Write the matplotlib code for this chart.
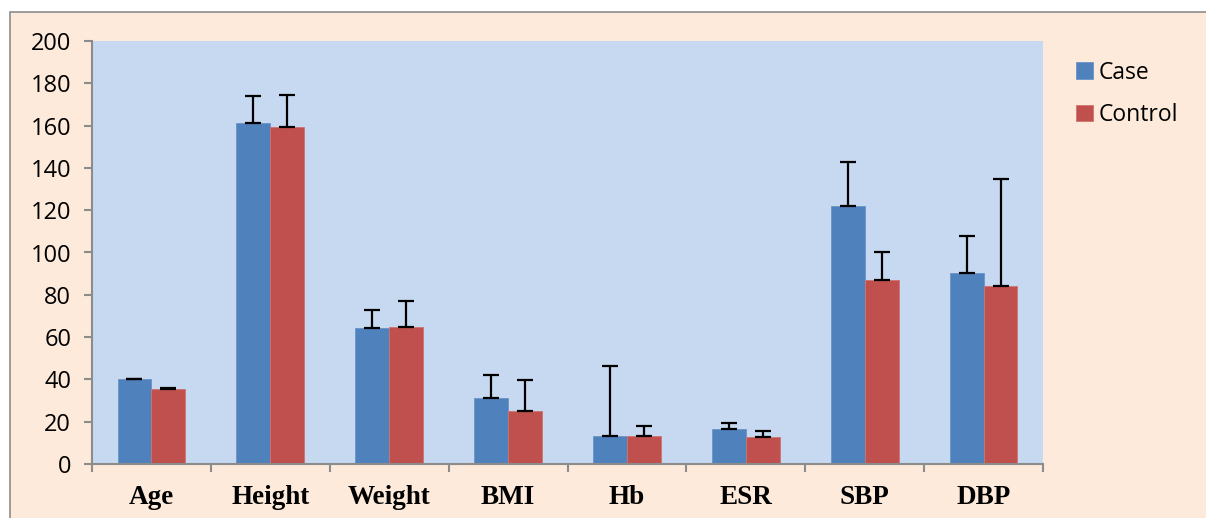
import matplotlib

matplotlib.use("Agg")
import matplotlib.pyplot as plt
import numpy as np
from matplotlib.patches import Rectangle

# Dades llegides del grafic
categories = ["Age", "Height", "Weight", "BMI", "Hb", "ESR", "SBP", "DBP"]
case_vals = [40.0, 161.0, 64.5, 31.2, 13.1, 16.7, 121.8, 90.2]
case_err = [0.4, 13.0, 8.5, 11.0, 33.0, 2.7, 21.0, 17.6]
control_vals = [35.3, 159.5, 65.0, 25.1, 13.1, 12.6, 86.9, 84.2]
control_err = [0.4, 14.8, 12.0, 14.8, 5.0, 3.1, 13.3, 50.6]
y_ticks = [0, 20, 40, 60, 80, 100, 120, 140, 160, 180, 200]

color_case = "#4F81BD"
color_control = "#C0504D"
fons_grafic = "#C6D9F1"
fons_figura = "#FDEADA"
gris = "#8C8C8C"

fig = plt.figure(figsize=(12.06, 5.18), dpi=100)
fig.patch.set_facecolor("white")

# Marc exterior de color preseec
marc = Rectangle((10 / 1206, -0.1), 1.2, (518 - 12) / 518 + 0.1,
                 transform=fig.transFigure, facecolor=fons_figura,
                 edgecolor=gris, linewidth=1.2, zorder=-10)
fig.patches.append(marc)

ax = fig.add_axes([92 / 1206, 54 / 518, (1043 - 92) / 1206, (464 - 41) / 518])
ax.set_zorder(1)
ax.set_facecolor(fons_grafic)

x = np.arange(len(categories))
amplada = 0.285

ax.bar(x - amplada / 2, case_vals, amplada, color=color_case, label="Case",
       edgecolor="#6A94C8", linewidth=0.6, zorder=2)
ax.bar(x + amplada / 2, control_vals, amplada, color=color_control, label="Control",
       edgecolor="#D07370", linewidth=0.6, zorder=2)

ax.errorbar(x - amplada / 2, case_vals, yerr=[np.zeros(len(case_err)), case_err],
            fmt="none", ecolor="black", elinewidth=1.6, capsize=6, capthick=1.6, zorder=3)
ax.errorbar(x + amplada / 2, control_vals, yerr=[np.zeros(len(control_err)), control_err],
            fmt="none", ecolor="black", elinewidth=1.6, capsize=6, capthick=1.6, zorder=3)

ax.set_xlim(-0.5, len(categories) - 0.5)
ax.set_ylim(0, 200)
ax.set_yticks(y_ticks)
ax.set_yticklabels([str(v) for v in y_ticks], fontsize=17, family="Open Sans")

# Marques de l'eix x als limits de categoria
ax.set_xticks(np.arange(len(categories) + 1) - 0.5)
ax.set_xticklabels([])
ax.set_xticks(x, minor=True)
ax.set_xticklabels(categories, minor=True, fontsize=19.5, fontweight="bold",
                   family="Liberation Serif")
ax.tick_params(axis="x", which="minor", length=0, pad=15)
ax.tick_params(axis="x", which="major", length=6, width=1.5, color=gris, direction="out")
ax.tick_params(axis="y", length=6, width=1.5, color=gris, direction="out", pad=9)

for lloc in ["top", "right"]:
    ax.spines[lloc].set_visible(False)
for lloc in ["left", "bottom"]:
    ax.spines[lloc].set_color(gris)
    ax.spines[lloc].set_linewidth(1.5)

fig.legend(loc="upper left", bbox_to_anchor=(1055 / 1206, 1 - 40 / 518),
           frameon=False, prop={"family": "Open Sans", "size": 16.5},
           handlelength=0.75, handleheight=0.75, handletextpad=0.25, labelspacing=0.8)

plt.savefig("out.png", dpi=100, facecolor=fig.get_facecolor())
